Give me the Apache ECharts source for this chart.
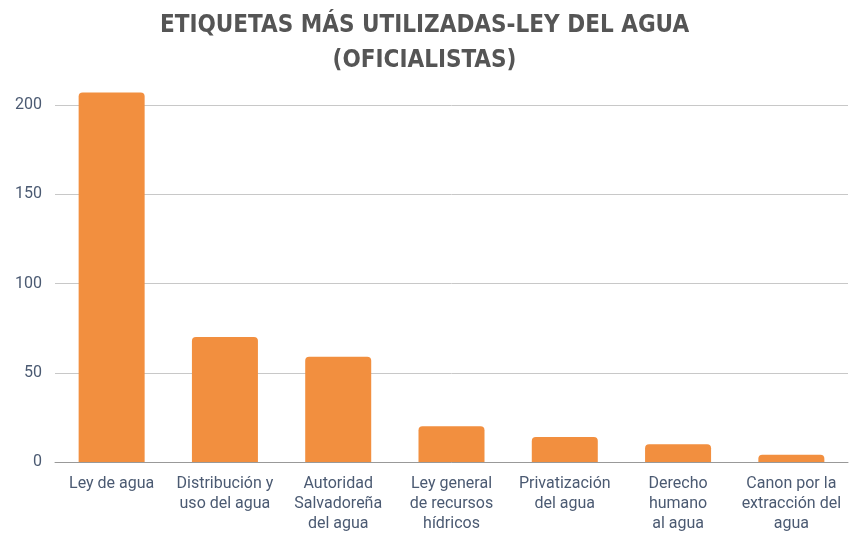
<!DOCTYPE html>
<html>
<head>
	<meta charset="utf-8" />
	<title>Etiquetas más utilizadas</title>
	<script src="https://cdn.jsdelivr.net/npm/echarts@6/dist/echarts.min.js"></script>
	<style>
		body { margin: 0; background: #fff; }
	</style>
</head>
<body>
	<div id="main" style="width: 849px;height: 536px;"></div>

	<script type="text/javascript">
		// etiquetas y conteos
		var categorias = ['Ley de agua', 'Distribución y\nuso del agua', 'Autoridad\nSalvadoreña\ndel agua', 'Ley general\nde recursos\nhídricos', 'Privatización\ndel agua', 'Derecho\nhumano\nal agua', 'Canon por la\nextracción del\nagua'];
		var valores = [207, 70, 59, 20, 14, 10, 4];
		var ticksY = [0, 50, 100, 150, 200];

		var myChart = echarts.init(document.getElementById("main"));

		var option = {
			title: {
				text: "ETIQUETAS MÁS UTILIZADAS-LEY DEL AGUA\n(OFICIALISTAS)",
				left: "center",
				top: 3,
				textStyle: {
					fontFamily: '"DejaVu Sans Condensed", "DejaVu Sans", sans-serif',
					fontWeight: 'bold',
					fontSize: 24,
					lineHeight: 35,
					color: '#555555'
				}
			},
			grid: {
				left: 55,
				right: 1,
				top: 105,
				bottom: 74
			},
			xAxis: {
				type: 'category',
				data: categorias,
				axisTick: { show: false },
				axisLine: { lineStyle: { color: '#999999' } },
				axisLabel: {
					interval: 0,
					margin: 12,
					color: '#4b5a72',
					fontFamily: 'Roboto',
					fontSize: 16,
					lineHeight: 20
				}
			},
			yAxis: {
				type: 'value',
				min: ticksY[0],
				max: ticksY[ticksY.length - 1],
				interval: 50,
				axisLine: { show: false },
				axisTick: { show: false },
				splitLine: { lineStyle: { color: '#c8c8c8' } },
				axisLabel: {
					margin: 13,
					color: '#4b5a72',
					fontFamily: 'Roboto',
					fontSize: 16
				}
			},
			series: [{
				type: 'bar',
				data: valores,
				barWidth: 66,
				clip: false,
				itemStyle: {
					color: '#f28f3f',
					borderRadius: [4, 4, 0, 0]
				}
			}]
		};

		myChart.setOption(option);
	</script>
</body>
</html>
